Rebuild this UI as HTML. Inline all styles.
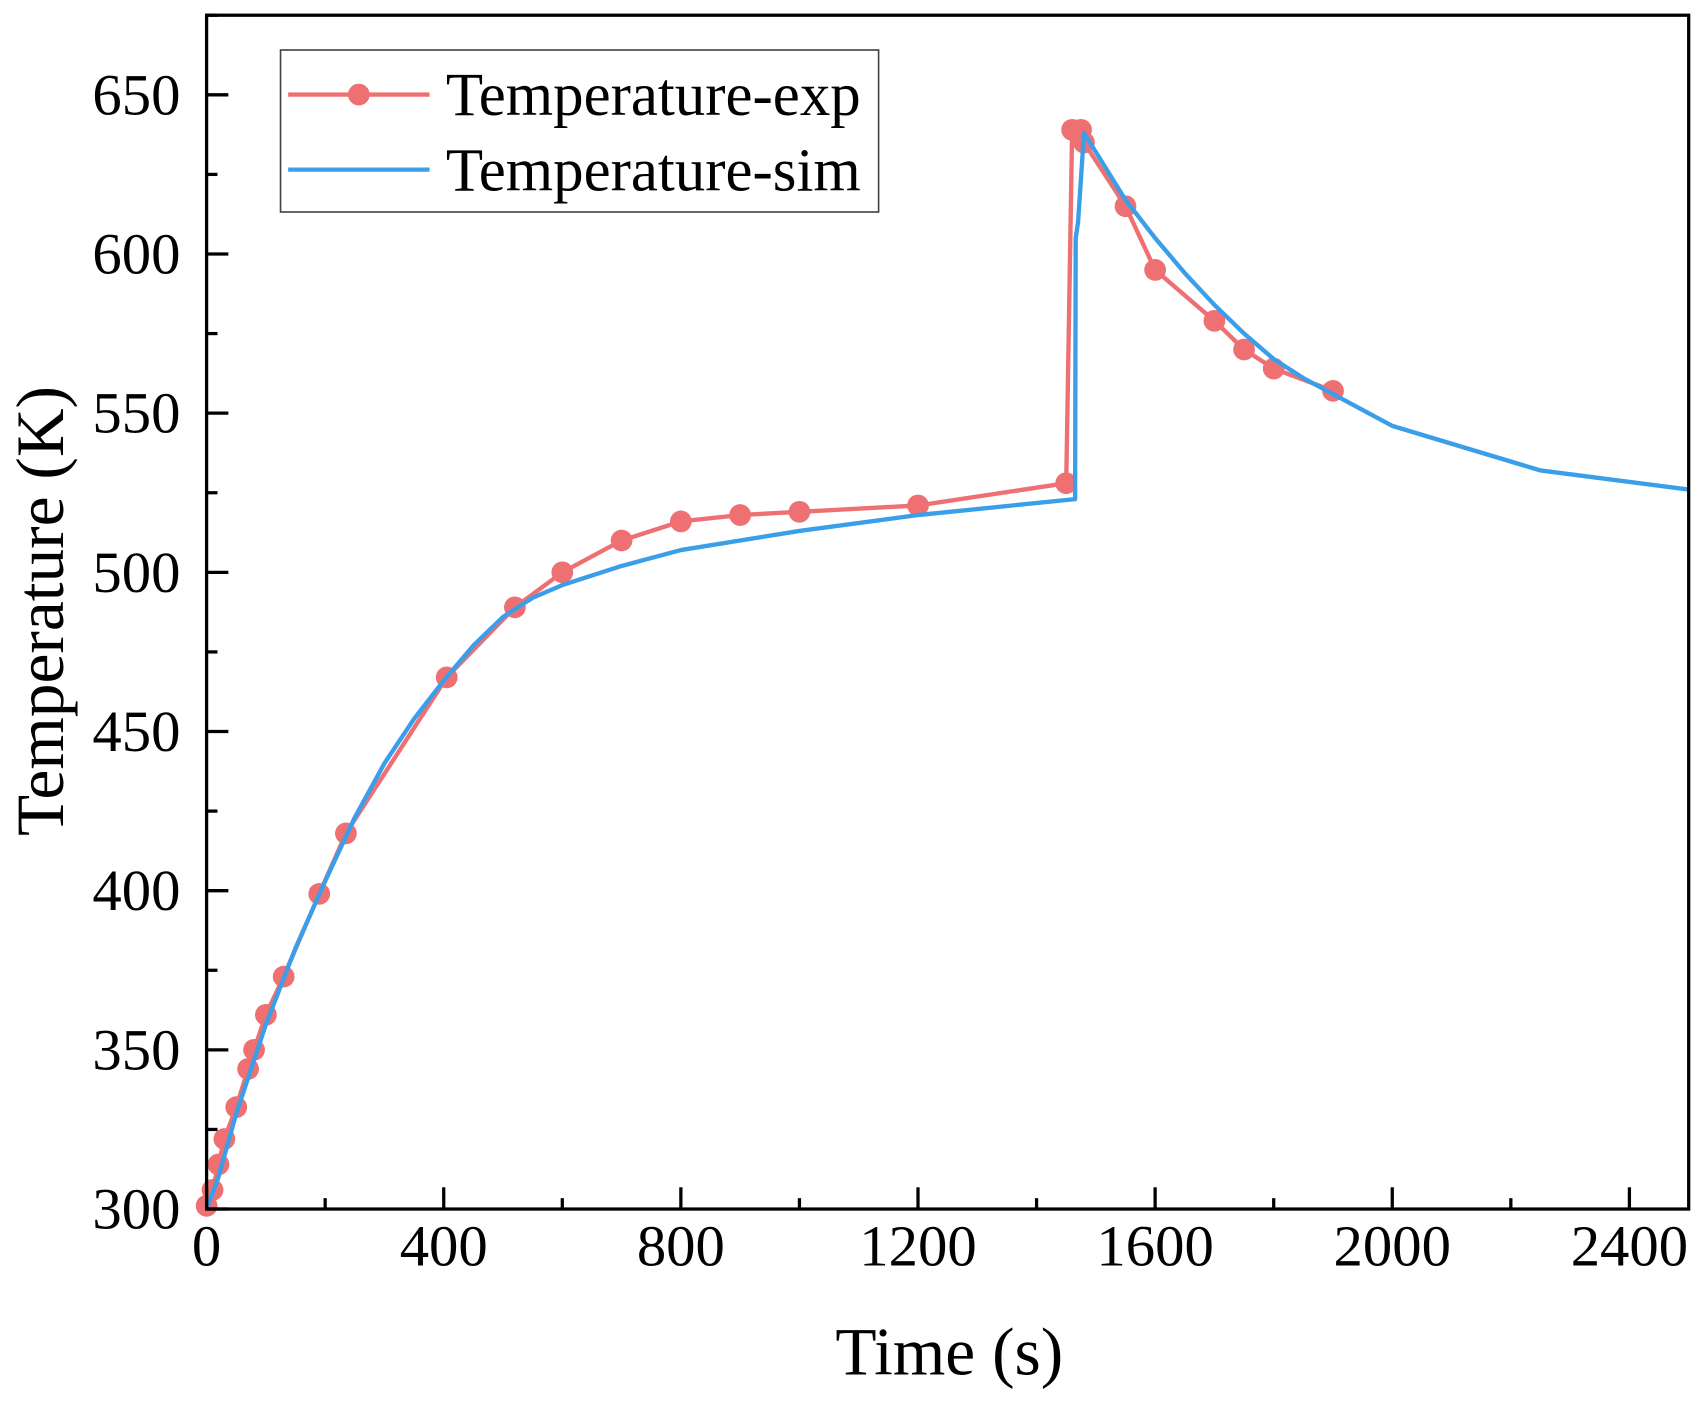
<!DOCTYPE html>
<html><head><meta charset="utf-8"><style>
html,body{margin:0;padding:0;background:#fff;}
svg{display:block;}
text{font-family:"Liberation Serif",serif;fill:#000;}
</style></head><body>
<svg id="chart" width="1705" height="1408" viewBox="0 0 1568 1295" preserveAspectRatio="none" xmlns="http://www.w3.org/2000/svg">
<g id="plot"></g>
</svg>
<script>
const expTime=[0,10,20,30,50,70,80,100,130,190,235,405,520,600,700,800,900,1000,1200,1450,1460,1475,1480,1550,1600,1700,1750,1800,1900];
const expTemp=[301,306,314,322,332,344,350,361,373,399,418,467,489,500,510,516,518,519,521,528,639,639,635,615,595,579,570,564,557];
const simTime=[0,20,50,100,150,200,250,300,350,400,450,500,550,600,700,800,1000,1200,1465,1466,1470,1480,1550,1600,1650,1700,1750,1800,1850,1900,2000,2250,2500];
const simTemp=[300,310,330,358,382,403,423,440,454,466,477,486,492,496,502,507,513,518,523,605,610,638,617,605,594,584,575,567,561,556,546,532,526];
const xTicks=[0,400,800,1200,1600,2000,2400];
const yTicks=[300,350,400,450,500,550,600,650];

const L=190,R=1553,T=14,B=1112;
const x=v=>L+(v-0)/(2500)*(R-L);
const y=v=>B-(v-300)/(375)*(B-T);
const NS="http://www.w3.org/2000/svg";
const g=document.getElementById('plot');
function mk(tag,attrs,parent){const e=document.createElementNS(NS,tag);for(const k in attrs)e.setAttribute(k,attrs[k]);(parent||g).appendChild(e);return e;}

const sim=mk('polyline',{points:simTime.map((t,i)=>x(t)+','+y(simTemp[i])).join(' '),fill:'none',stroke:'#3a9ee8','stroke-width':4,'stroke-linejoin':'round'});


const expL=mk('polyline',{points:expTime.map((t,i)=>x(t)+','+y(expTemp[i])).join(' '),fill:'none',stroke:'#ee7072','stroke-width':4});


g.insertBefore(expL,sim);
expTime.forEach((t,i)=>{
  const c=mk('circle',{cx:x(t),cy:y(expTemp[i]),r:10,fill:'#ee7072'});
  
  
  g.insertBefore(c,sim);
});

const fr=mk('rect',{x:L,y:T,width:R-L,height:B-T,fill:'none',stroke:'#000','stroke-width':3});



for(let v=0;v<=2500;v+=200){
  const maj=v%400===0;
  const t=mk('line',{x1:x(v),x2:x(v),y1:B,y2:B-(maj?20:10),stroke:'#000','stroke-width':3});
  
  
}
xTicks.forEach(v=>{
  const t=mk('text',{x:x(v),y:B+52,'text-anchor':'middle','font-size':54});
  t.textContent=v;
  
  
});
for(let v=300;v<=675;v+=25){
  const maj=v%50===0;
  const t=mk('line',{x1:L,x2:L+(maj?20:10),y1:y(v),y2:y(v),stroke:'#000','stroke-width':3});
  
  
}
yTicks.forEach(v=>{
  const t=mk('text',{x:L-24,y:y(v)+18,'text-anchor':'end','font-size':54});
  t.textContent=v;
  
  
});
const xt=mk('text',{x:873,y:1264,'text-anchor':'middle','font-size':62});
xt.textContent='Time (s)';


const yt=mk('text',{x:0,y:0,'text-anchor':'middle','font-size':62,transform:'translate(58,562) rotate(-90)'});
yt.textContent='Temperature (K)';



const lg=mk('g',{});


mk('rect',{x:258,y:46,width:550,height:149,fill:'#fff',stroke:'#444','stroke-width':1.5},lg);
const e1=mk('g',{},lg);


mk('line',{x1:265,x2:395,y1:87,y2:87,stroke:'#ee7072','stroke-width':4},e1);
mk('circle',{cx:330,cy:87,r:10,fill:'#ee7072'},e1);
const t1=mk('text',{x:410,y:106,'font-size':56},e1);t1.textContent='Temperature-exp';
const e2=mk('g',{},lg);


mk('line',{x1:265,x2:395,y1:156,y2:156,stroke:'#3a9ee8','stroke-width':4},e2);
const t2=mk('text',{x:410,y:175,'font-size':56},e2);t2.textContent='Temperature-sim';
</script>
</body></html>
